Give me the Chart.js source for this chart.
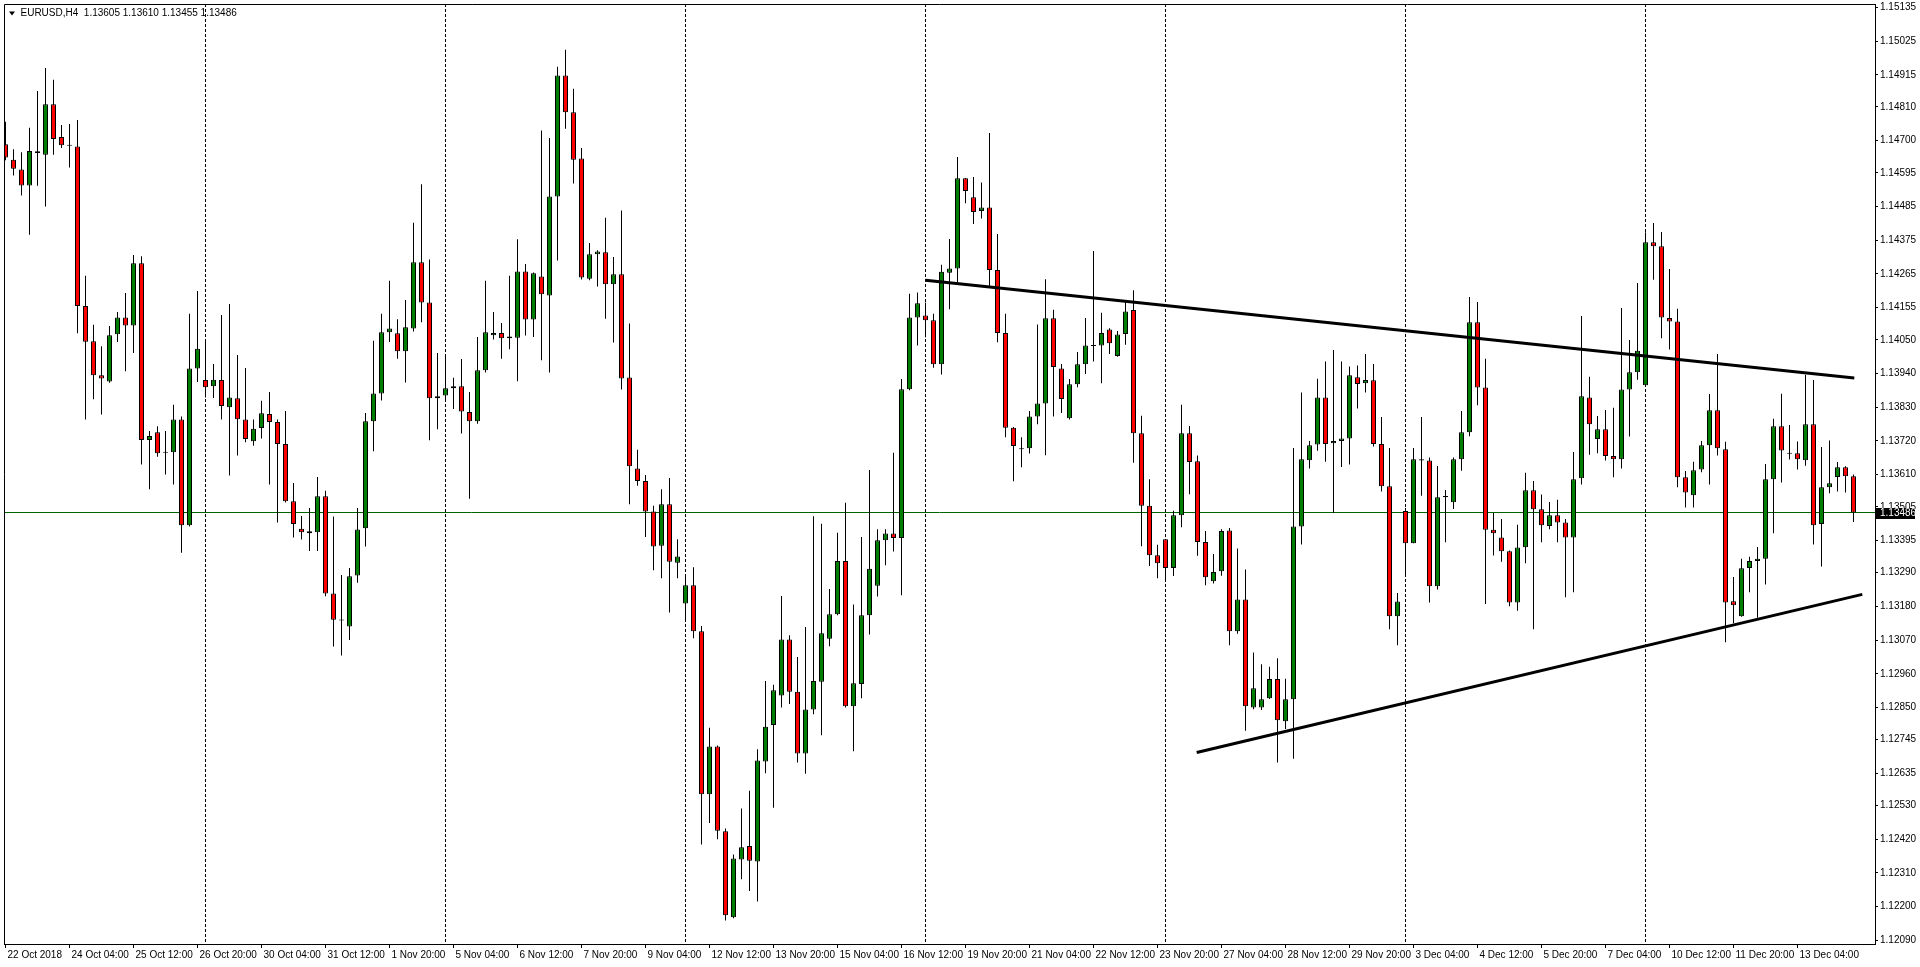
<!DOCTYPE html>
<html><head><meta charset="utf-8">
<script src="https://cdn.jsdelivr.net/npm/chart.js@4.4.1/dist/chart.umd.min.js"></script>
<style>html,body{margin:0;padding:0;background:#fff;overflow:hidden}#wrap{position:relative;width:1920px;height:967px}</style>
</head><body><div id="wrap"><canvas id="c" width="1920" height="967"></canvas></div>
<script>
const symbol = 'EURUSD,H4';

const opens = [
1.14688,1.14638,1.14606,1.14554,1.14665,1.14654,1.14819,1.14712,1.14684,1.14681,
1.14160,1.14045,1.13934,1.13914,1.14068,1.14123,1.14097,1.14300,1.13723,1.13748,
1.13681,1.13683,1.13790,1.13445,1.13956,1.13919,1.13898,1.13919,1.13830,1.13859,
1.13790,1.13719,1.13762,1.13808,1.13782,1.13710,1.13523,1.13433,1.13425,1.13422,
1.13539,1.13222,1.13136,1.13114,1.13281,1.13435,1.13784,1.13875,1.14075,1.14071,
1.14013,1.14087,1.14303,1.14172,1.13859,1.13868,1.13892,1.13898,1.13814,1.13784,
1.13951,1.14065,1.14072,1.14055,1.14057,1.14273,1.14116,1.14257,1.14195,1.14518,
1.14913,1.14793,1.14642,1.14249,1.14329,1.14336,1.14231,1.14264,1.13927,1.13630,
1.13589,1.13490,1.13378,1.13513,1.13322,1.13189,1.13249,1.13099,1.12567,1.12723,
1.12446,1.12165,1.12354,1.12398,1.12347,1.12674,1.12793,1.12889,1.13072,1.12901,
1.12700,1.12843,1.12934,1.13074,1.13154,1.13328,1.12854,1.12927,1.13151,1.13247,
1.13396,1.13418,1.13403,1.13889,1.14123,1.14129,1.14114,1.13970,1.14269,1.14283,
1.14577,1.14515,1.14470,1.14482,1.14278,1.14072,1.13763,1.13695,1.13696,1.13800,
1.13842,1.14120,1.13956,1.13794,1.13905,1.13970,1.14031,1.14031,1.14084,1.13997,
1.14069,1.14147,1.13745,1.13508,1.13347,1.13399,1.13305,1.13477,1.13745,1.13654,
1.13390,1.13262,1.13295,1.13428,1.13099,1.13202,1.12850,1.12850,1.12880,1.12943,
1.12805,1.12877,1.13441,1.13657,1.13708,1.13862,1.13712,1.13720,1.13728,1.13928,
1.13908,1.13918,1.13710,1.13572,1.13148,1.13491,1.13386,1.13660,1.13656,1.13246,
1.13536,1.13520,1.13660,1.13748,1.14107,1.13894,1.13430,1.13405,1.13360,1.13193,
1.13373,1.13559,1.13497,1.13442,1.13477,1.13454,1.13405,1.13598,1.13862,1.13726,
1.13758,1.13671,1.13660,1.13888,1.13944,1.13902,1.14368,1.14355,1.14121,1.14110,
1.13601,1.13543,1.13627,1.13706,1.13820,1.13693,1.13197,1.13148,1.13305,1.13328,
1.13335,1.13595,1.13768,1.13680,1.13680,1.13657,1.13774,1.13449,1.13569,1.13602,
1.13634,1.13605];

const highs = [
1.14762,1.14672,1.14662,1.14742,1.14862,1.14937,1.14899,1.14751,1.14754,1.14767,
1.14259,1.14099,1.14029,1.14095,1.14141,1.14203,1.14327,1.14323,1.13752,1.13768,
1.13752,1.13838,1.13800,1.14135,1.14209,1.14049,1.13971,1.14131,1.14167,1.14000,
1.13958,1.13790,1.13851,1.13880,1.13790,1.13818,1.13583,1.13475,1.13501,1.13602,
1.13557,1.13473,1.13282,1.13305,1.13501,1.13811,1.14047,1.14135,1.14243,1.14117,
1.14180,1.14432,1.14558,1.14312,1.14007,1.13998,1.13926,1.13987,1.13880,1.14059,
1.14243,1.14141,1.14105,1.14259,1.14378,1.14297,1.14270,1.14733,1.14709,1.14941,
1.14997,1.14869,1.14676,1.14366,1.14342,1.14448,1.14320,1.14472,1.14103,1.13691,
1.13609,1.13508,1.13562,1.13599,1.13399,1.13284,1.13308,1.13116,1.12784,1.12726,
1.12455,1.12370,1.12520,1.12578,1.12714,1.12936,1.12924,1.13214,1.13086,1.13015,
1.13113,1.13474,1.13450,1.13237,1.13420,1.13518,1.13186,1.13406,1.13625,1.13432,
1.13432,1.13681,1.13922,1.14200,1.14204,1.14172,1.14135,1.14295,1.14379,1.14647,
1.14578,1.14581,1.14563,1.14725,1.14395,1.14135,1.13765,1.13732,1.13818,1.14100,
1.14248,1.14148,1.13971,1.13922,1.14010,1.14121,1.14340,1.14138,1.14088,1.14079,
1.14178,1.14212,1.13802,1.13595,1.13381,1.13400,1.13492,1.13838,1.13769,1.13672,
1.13426,1.13351,1.13432,1.13436,1.13369,1.13300,1.13029,1.12991,1.12983,1.13011,
1.12944,1.13697,1.13878,1.13720,1.13923,1.13979,1.14017,1.13979,1.13963,1.13966,
1.14004,1.13971,1.13798,1.13697,1.13224,1.13501,1.13697,1.13798,1.13666,1.13638,
1.13560,1.13666,1.13818,1.14190,1.14173,1.13988,1.13485,1.13465,1.13362,1.13446,
1.13616,1.13589,1.13545,1.13521,1.13528,1.13465,1.13684,1.14128,1.13929,1.13801,
1.13821,1.13828,1.14154,1.14049,1.14235,1.14401,1.14431,1.14402,1.14281,1.14151,
1.13622,1.13652,1.13720,1.13873,1.14004,1.13717,1.13276,1.13335,1.13342,1.13374,
1.13645,1.13792,1.13874,1.13772,1.13718,1.13936,1.13919,1.13700,1.13721,1.13651,
1.13637,1.13610];

const lows = [
1.14636,1.14586,1.14521,1.14393,1.14553,1.14485,1.14654,1.14676,1.14612,1.14071,
1.13790,1.13856,1.13806,1.13910,1.14043,1.13947,1.14007,1.13643,1.13562,1.13668,
1.13610,1.13578,1.13355,1.13441,1.13912,1.13862,1.13860,1.13790,1.13607,1.13672,
1.13716,1.13704,1.13728,1.13578,1.13454,1.13519,1.13405,1.13398,1.13361,1.13361,
1.13213,1.13049,1.13020,1.13070,1.13257,1.13375,1.13686,1.13852,1.14043,1.13988,
1.13911,1.14077,1.14107,1.13722,1.13758,1.13848,1.13824,1.13744,1.13531,1.13776,
1.13943,1.14051,1.13988,1.14019,1.13915,1.14064,1.14059,1.13983,1.13943,1.14309,
1.14739,1.14560,1.14247,1.14244,1.14224,1.14119,1.14041,1.13888,1.13513,1.13574,
1.13406,1.13298,1.13272,1.13160,1.13272,1.13137,1.13076,1.12403,1.12473,1.12420,
1.12155,1.12162,1.12289,1.12251,1.12217,1.12635,1.12523,1.12850,1.12861,1.12670,
1.12634,1.12828,1.12759,1.13050,1.13151,1.12850,1.12707,1.12880,1.13088,1.13212,
1.13314,1.13359,1.13216,1.13885,1.14031,1.14058,1.13959,1.13937,1.14150,1.14236,
1.14496,1.14428,1.14446,1.14226,1.14042,1.13732,1.13588,1.13634,1.13679,1.13774,
1.13673,1.13800,1.13811,1.13790,1.13895,1.13938,1.13979,1.13908,1.14004,1.13995,
1.14034,1.13649,1.13376,1.13312,1.13272,1.13260,1.13279,1.13438,1.13546,1.13345,
1.13249,1.13255,1.13280,1.13053,1.13091,1.12774,1.12844,1.12842,1.12878,1.12670,
1.12780,1.12683,1.13382,1.13630,1.13688,1.13652,1.13485,1.13635,1.13643,1.13826,
1.13878,1.13702,1.13555,1.13105,1.13053,1.13276,1.13386,1.13541,1.13193,1.13235,
1.13389,1.13498,1.13623,1.13735,1.13836,1.13188,1.13346,1.13326,1.13180,1.13166,
1.13321,1.13105,1.13389,1.13432,1.13389,1.13210,1.13226,1.13578,1.13675,1.13680,
1.13656,1.13601,1.13630,1.13734,1.13920,1.13900,1.14246,1.14055,1.14018,1.13569,
1.13503,1.13503,1.13618,1.13578,1.13672,1.13063,1.13125,1.13146,1.13226,1.13143,
1.13251,1.13419,1.13584,1.13659,1.13627,1.13639,1.13382,1.13310,1.13549,1.13555,
1.13552,1.13455];

const closes = [
1.14645,1.14608,1.14554,1.14666,1.14660,1.14819,1.14705,1.14685,1.14683,1.14160,
1.14044,1.13934,1.13924,1.14065,1.14123,1.14097,1.14300,1.13723,1.13736,1.13680,
1.13683,1.13790,1.13445,1.13956,1.14021,1.13895,1.13920,1.13834,1.13862,1.13791,
1.13726,1.13760,1.13810,1.13782,1.13710,1.13523,1.13449,1.13422,1.13419,1.13539,
1.13222,1.13136,1.13134,1.13278,1.13431,1.13784,1.13875,1.14075,1.14087,1.14013,
1.14091,1.14303,1.14172,1.13859,1.13866,1.13892,1.13898,1.13816,1.13784,1.13951,
1.14075,1.14072,1.14055,1.14061,1.14273,1.14116,1.14267,1.14199,1.14518,1.14913,
1.14793,1.14638,1.14253,1.14329,1.14338,1.14231,1.14264,1.13924,1.13637,1.13589,
1.13490,1.13375,1.13513,1.13326,1.13343,1.13249,1.13099,1.12567,1.12723,1.12448,
1.12172,1.12357,1.12394,1.12350,1.12677,1.12787,1.12906,1.13072,1.12901,1.12700,
1.12843,1.12936,1.13092,1.13154,1.13328,1.12854,1.12929,1.13151,1.13303,1.13396,
1.13418,1.13403,1.13889,1.14123,1.14169,1.14114,1.13970,1.14272,1.14283,1.14577,
1.14536,1.14467,1.14482,1.14278,1.14072,1.13763,1.13703,1.13693,1.13800,1.13842,
1.14120,1.13961,1.13857,1.13905,1.13970,1.14031,1.14030,1.14072,1.14039,1.14067,
1.14142,1.13745,1.13508,1.13347,1.13321,1.13305,1.13477,1.13745,1.13651,1.13390,
1.13275,1.13292,1.13426,1.13099,1.13202,1.12854,1.12913,1.12877,1.12943,1.12808,
1.12877,1.13441,1.13660,1.13706,1.13862,1.13710,1.13720,1.13728,1.13934,1.13906,
1.13919,1.13710,1.13572,1.13148,1.13196,1.13386,1.13660,1.13656,1.13246,1.13536,
1.13540,1.13660,1.13748,1.14107,1.13894,1.13430,1.13419,1.13360,1.13193,1.13372,
1.13559,1.13497,1.13445,1.13477,1.13454,1.13405,1.13595,1.13866,1.13774,1.13758,
1.13671,1.13660,1.13888,1.13944,1.14014,1.14368,1.14355,1.14123,1.14110,1.13601,
1.13552,1.13624,1.13706,1.13820,1.13696,1.13193,1.13184,1.13304,1.13328,1.13335,
1.13595,1.13768,1.13689,1.13678,1.13660,1.13774,1.13445,1.13569,1.13582,1.13634,
1.13605,1.13486];

const xTickLabels = ['22 Oct 2018','24 Oct 04:00','25 Oct 12:00','26 Oct 20:00','30 Oct 04:00','31 Oct 12:00','1 Nov 20:00','5 Nov 04:00','6 Nov 12:00','7 Nov 20:00','9 Nov 04:00','12 Nov 12:00','13 Nov 20:00','15 Nov 04:00','16 Nov 12:00','19 Nov 20:00','21 Nov 04:00','22 Nov 12:00','23 Nov 20:00','27 Nov 04:00','28 Nov 12:00','29 Nov 20:00','3 Dec 04:00','4 Dec 12:00','5 Dec 20:00','7 Dec 04:00','10 Dec 12:00','11 Dec 20:00','13 Dec 04:00'];
const xTickStep = 8;
const weekStarts = [25, 55, 85, 115, 145, 175, 205];
const yTicks = [1.15135,1.15025,1.14915,1.14810,1.14700,1.14595,1.14485,1.14375,1.14265,1.14155,1.14050,1.13940,1.13830,1.13720,1.13610,1.13505,1.13395,1.13290,1.13180,1.13070,1.12960,1.12850,1.12745,1.12635,1.12530,1.12420,1.12310,1.12200,1.12090];
const yMin = 1.12078, yMax = 1.15146;
const upperTrendX = [115, 231.1], upperTrendY = [1.14244, 1.13925];
const lowerTrendX = [148.9, 232.1], lowerTrendY = [1.12703, 1.13219];

const n = opens.length;
const idx = opens.map((_, i) => i);
const bodies = idx.map(i => ({x: i, y: [opens[i], closes[i]]}));
const wicks = idx.map(i => ({x: i, y: [lows[i], highs[i]]}));
const bodyColors = idx.map(i => closes[i] >= opens[i] ? '#008000' : '#ff0000');
const fontFam = "'Liberation Sans', Arial, sans-serif";
Chart.defaults.font.family = fontFam;
Chart.defaults.font.size = 10;
Chart.defaults.color = '#000';

const decor = {
  id: 'decor',
  beforeDatasetsDraw(chart) {
    const {ctx, chartArea: a, scales: {x, y}} = chart;
    ctx.save();
    ctx.beginPath(); ctx.rect(a.left, a.top, a.right - a.left, a.bottom - a.top); ctx.clip();
    ctx.strokeStyle = '#000'; ctx.lineWidth = 1; ctx.setLineDash([3, 2]);
    weekStarts.forEach(w => {
      const px = Math.floor(x.getPixelForValue(w)) + 0.5;
      ctx.beginPath(); ctx.moveTo(px, a.top); ctx.lineTo(px, a.bottom); ctx.stroke();
    });
    ctx.setLineDash([]);
    const py = Math.floor(y.getPixelForValue(closes[n - 1])) + 0.5;
    ctx.strokeStyle = '#006400';
    ctx.beginPath(); ctx.moveTo(a.left, py); ctx.lineTo(a.right, py); ctx.stroke();
    ctx.restore();
  },
  afterDraw(chart) {
    const {ctx, chartArea: a, scales: {y}} = chart;
    ctx.save();
    ctx.strokeStyle = '#000'; ctx.lineWidth = 1;
    ctx.beginPath(); ctx.moveTo(a.left + 0.5, a.bottom); ctx.lineTo(a.left + 0.5, a.top + 0.5); ctx.lineTo(a.right, a.top + 0.5); ctx.stroke();
    const last = n - 1;
    const py = y.getPixelForValue(closes[last]);
    ctx.fillStyle = '#000';
    ctx.fillRect(a.right + 1, Math.round(py) - 5, 39, 11);
    ctx.fillStyle = '#fff'; ctx.font = '10px ' + fontFam; ctx.textBaseline = 'middle'; ctx.textAlign = 'left';
    ctx.fillText(closes[last].toFixed(5), a.right + 5, Math.round(py) + 0.5);
    ctx.fillStyle = '#000';
    ctx.beginPath(); ctx.moveTo(9, 11.5); ctx.lineTo(15, 11.5); ctx.lineTo(12, 15.5); ctx.closePath(); ctx.fill();
    ctx.fillText(symbol + '  ' + [opens[last], highs[last], lows[last], closes[last]].map(v => v.toFixed(5)).join(' '), 20.5, 13.5);
    ctx.restore();
  }
};

new Chart(document.getElementById('c'), {
  type: 'bar',
  data: {
    datasets: [
      {type: 'line', data: upperTrendX.map((v, k) => ({x: v, y: upperTrendY[k]})), borderColor: '#000', borderWidth: 3, pointRadius: 0, fill: false, tension: 0, order: 0},
      {type: 'line', data: lowerTrendX.map((v, k) => ({x: v, y: lowerTrendY[k]})), borderColor: '#000', borderWidth: 3, pointRadius: 0, fill: false, tension: 0, order: 0},
      {type: 'bar', data: bodies, backgroundColor: bodyColors, borderColor: '#000', borderWidth: 1, borderSkipped: false, barThickness: 5, grouped: false, minBarLength: 1, inflateAmount: 0, order: 1},
      {type: 'bar', data: wicks, backgroundColor: '#000', borderWidth: 0, barThickness: 1, grouped: false, minBarLength: 1, inflateAmount: 0, order: 2}
    ]
  },
  options: {
    responsive: false, animation: false, devicePixelRatio: 1,
    layout: {padding: {left: 4, top: 4, right: 0, bottom: 0}},
    plugins: {legend: {display: false}, tooltip: {enabled: false}, title: {display: false}},
    scales: {
      x: {
        type: 'linear', min: -0.1875, max: 233.6875, offset: false, bounds: 'data',
        grid: {display: true, drawOnChartArea: false, drawTicks: true, tickLength: 4, tickColor: '#000', offset: false},
        border: {display: true, color: '#000', width: 1},
        ticks: {autoSkip: false, maxRotation: 0, minRotation: 0, align: 'start', padding: 1, labelOffset: 2, color: '#000',
          callback: v => { const k = v / xTickStep; return (Number.isInteger(k) && k < xTickLabels.length) ? xTickLabels[k] : ''; }},
        afterBuildTicks: s => { s.ticks = xTickLabels.map((_, k) => ({value: k * xTickStep})); },
        afterFit: s => { s.height = 23; s.paddingLeft = 0; s.paddingRight = 0; }
      },
      y: {
        type: 'linear', position: 'right', min: yMin, max: yMax, beginAtZero: false, bounds: 'data',
        grid: {display: true, drawOnChartArea: false, drawTicks: true, tickLength: 3, tickColor: '#000'},
        border: {display: true, color: '#000', width: 1},
        ticks: {autoSkip: false, padding: 2, color: '#000', callback: v => Number(v).toFixed(5)},
        afterBuildTicks: s => { s.ticks = yTicks.map(v => ({value: v})); },
        afterFit: s => { s.width = 45; s.paddingTop = 0; s.paddingBottom = 0; }
      }
    }
  },
  plugins: [decor]
});
</script>
</body></html>
